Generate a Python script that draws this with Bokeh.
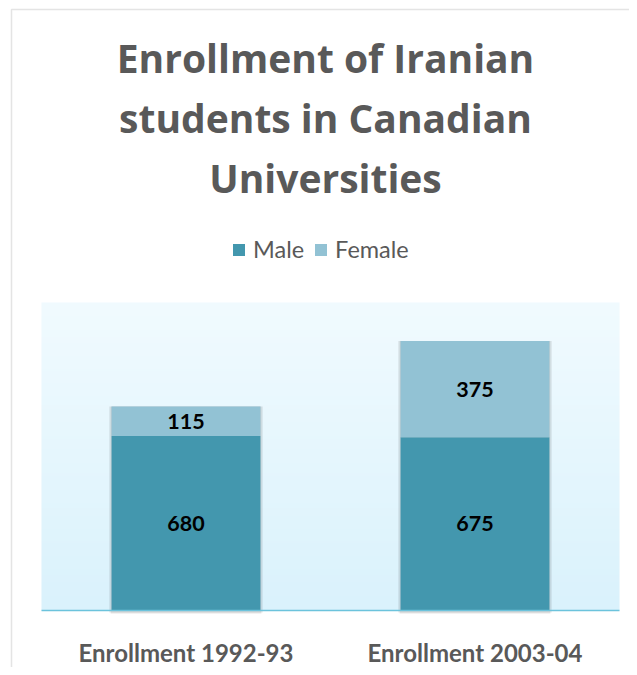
import numpy as np
from bokeh.plotting import figure
from bokeh.models import ColumnDataSource, Label, Legend, LegendItem, BoxAnnotation
from bokeh.embed import file_html
from bokeh.resources import INLINE
from bokeh.core.properties import value

# ---- data ----
categories = ["Enrollment 1992-93", "Enrollment 2003-04"]
series = ["Male", "Female"]
male = [680, 675]
female = [115, 375]
colors = ["#4397ae", "#92c2d4"]
title_lines = ["Enrollment of Iranian", "students in Canadian", "Universities"]
y_max = 1200

# ---- layout (pixels) ----
W, H = 629, 667
left_px, right_px, top_px, bottom_px = 41, 10, 302, 57
area_w = W - left_px - right_px
area_h = H - top_px - bottom_px
ppx = len(categories) / area_w      # x units per pixel
ppy = y_max / area_h                # y units per pixel

xs = [i + 0.5 for i in range(len(categories))]
total = [m + f for m, f in zip(male, female)]
source = ColumnDataSource(dict(
    x=xs, cat=categories, Male=male, Female=female, total=total,
    male_mid=[m / 2 for m in male],
    female_mid=[m + f / 2 for m, f in zip(male, female)],
    male_lbl=[str(v) for v in male],
    female_lbl=[str(v) for v in female],
))

FONT = "Lato"
TFONT = "Open Sans"
GRAY = "#595959"

p = figure(x_range=(-left_px * ppx, len(categories) + right_px * ppx),
           y_range=(-bottom_px * ppy, y_max + top_px * ppy),
           width=W, height=H, output_backend="svg", toolbar_location=None,
           min_border=0, border_fill_color="white", background_fill_color="white")
p.axis.visible = False
p.grid.visible = False
p.outline_line_color = None

# background gradient of plot area
n = 256
t = np.linspace(0.0, 1.0, n)
img = np.empty((n, 1), dtype=np.uint32)
v = img.view(dtype=np.uint8).reshape((n, 1, 4))
v[:, 0, 0] = (218 + (241 - 218) * t).astype(np.uint8)
v[:, 0, 1] = (242 + (251 - 242) * t).astype(np.uint8)
v[:, 0, 2] = (252 + (255 - 252) * t).astype(np.uint8)
v[:, 0, 3] = 255
p.image_rgba(image=[img], x=0, y=0, dw=len(categories), dh=y_max)

# bar shadows
p.vbar(x='x', top='total', bottom=-3 * ppy, width=0.515 + 2 * ppx, source=source,
       fill_color="black", fill_alpha=0.10, line_color=None)
p.vbar(x='x', top='total', bottom=-2 * ppy, width=0.515 + 5 * ppx, source=source,
       fill_color="black", fill_alpha=0.07, line_color=None)

bars = p.vbar_stack(series, x='x', width=0.515, color=colors, line_color=None, source=source)

# baseline (category axis line)
p.segment(x0=0, x1=len(categories), y0=0, y1=0, line_color="#6cc3dc", line_width=1.5)

lbl_kw = dict(source=source, text_align="center", text_baseline="middle",
              text_font=value(FONT), text_font_style="bold", text_font_size="21.5px",
              text_color="black")
p.text(x='x', y='male_mid', text='male_lbl', **lbl_kw)
p.text(x='x', y='female_mid', text='female_lbl', **lbl_kw)

# category labels
p.text(x='x', y=-42 * ppy, text='cat', source=source, text_align="center",
       text_baseline="middle", text_font=value(FONT), text_font_style="bold",
       text_font_size="24px", text_color=GRAY)

# legend
legend = Legend(items=[LegendItem(label=s, renderers=[r]) for s, r in zip(series, bars)],
                orientation="horizontal", location=(231, 404),
                label_text_font=FONT, label_text_font_size="23.5px", label_text_color=GRAY,
                glyph_width=15, glyph_height=15, label_standoff=7, spacing=9,
                padding=0, margin=0, border_line_color=None, background_fill_alpha=0)
p.add_layout(legend)

# title (three centered lines)
for i, line in enumerate(title_lines):
    p.add_layout(Label(x=325, y=H - 57 - 60 * i, x_units="screen", y_units="screen", text=line,
                       text_align="center", text_baseline="alphabetic",
                       text_font=TFONT, text_font_style="bold", text_font_size="39px",
                       text_color=GRAY))

# chart border
p.add_layout(BoxAnnotation(left=11, right=900, top=H - 9, bottom=-300,
                           left_units="screen", right_units="screen",
                           top_units="screen", bottom_units="screen",
                           fill_alpha=0, line_color="#a6a6a6", line_width=1.5))

open("out.html", "w").write(file_html(p, INLINE))
